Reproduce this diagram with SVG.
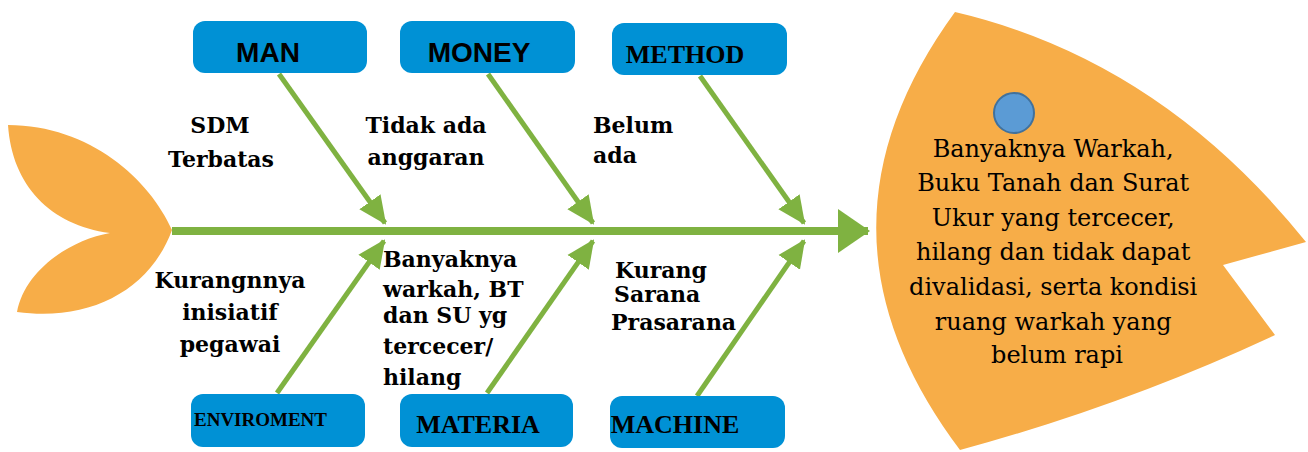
<svg xmlns="http://www.w3.org/2000/svg" width="1308" height="452" viewBox="0 0 1308 452">
<defs>
<style>
.box{fill:#0091d5}
.bone{stroke:#7fb241;stroke-width:5;fill:none}
.spine{stroke:#7fb241;stroke-width:8;fill:none}
.fish{fill:#f7ad48}
.sans{font-family:"Liberation Sans",Arial,sans-serif;font-weight:bold;font-size:28px;fill:#000}
.ser{font-family:"Liberation Serif","Times New Roman",serif;font-weight:bold;font-size:26px;fill:#000}
.lbl{font-family:"DejaVu Serif",Cambria,serif;font-weight:bold;font-size:22px;fill:#000}
.head{font-family:"DejaVu Serif",Cambria,serif;font-size:24px;fill:#000;text-anchor:middle}
</style>
<marker id="ah" markerUnits="userSpaceOnUse" markerWidth="28" markerHeight="28" viewBox="0 0 28 28" refX="26" refY="14" orient="auto">
<path d="M0,1 L28,14 L0,27 Z" fill="#7fb241"/>
</marker>
<marker id="big" markerUnits="userSpaceOnUse" markerWidth="32" markerHeight="44" viewBox="0 0 32 44" refX="30" refY="22" orient="auto">
<path d="M0,0 L32,22 L0,44 Z" fill="#7fb241"/>
</marker>
</defs>
<rect width="1308" height="452" fill="#fff"/>

<g id="tail">
<path class="fish" d="M8,125 C90,125 150,180 172,230 C150,290 90,322 17,312 C25,270 70,240 110,233 C50,225 12,185 8,125 Z"/>
</g>

<g id="head">
<path class="fish" d="M955,12 Q795,231 960,450 Q1125,405 1275,335 L1223,265 L1306,242 Q1160,60 955,12 Z"/>
<circle cx="1014" cy="113" r="20" fill="#5b9bd5" stroke="#41719c" stroke-width="2"/>
<text class="head">
<tspan x="1057" y="157">Banyaknya Warkah,</tspan>
<tspan x="1057" y="191">Buku Tanah dan Surat</tspan>
<tspan x="1057" y="226">Ukur yang tercecer,</tspan>
<tspan x="1057" y="260">hilang dan tidak dapat</tspan>
<tspan x="1057" y="295">divalidasi, serta kondisi</tspan>
<tspan x="1057" y="330">ruang warkah yang</tspan>
<tspan x="1057" y="363">belum rapi</tspan>
</text>
</g>

<g id="connectors">
<line class="spine" x1="172" y1="231" x2="868" y2="231" marker-end="url(#big)"/>
<line class="bone" x1="279" y1="74" x2="385" y2="223" marker-end="url(#ah)"/>
<line class="bone" x1="488" y1="74" x2="593" y2="223" marker-end="url(#ah)"/>
<line class="bone" x1="700" y1="76" x2="804" y2="223" marker-end="url(#ah)"/>
<line class="bone" x1="277" y1="393" x2="384" y2="241" marker-end="url(#ah)"/>
<line class="bone" x1="487" y1="393" x2="593" y2="241" marker-end="url(#ah)"/>
<line class="bone" x1="697" y1="396" x2="804" y2="241" marker-end="url(#ah)"/>
</g>

<g id="man">
<rect class="box" x="193" y="21" width="174" height="52" rx="12"/>
<text class="sans" x="268" y="62" text-anchor="middle">MAN</text>
</g>
<g id="money">
<rect class="box" x="400" y="21" width="175" height="52" rx="12"/>
<text class="sans" x="479" y="62" text-anchor="middle">MONEY</text>
</g>
<g id="method">
<rect class="box" x="612" y="23" width="175" height="52" rx="12"/>
<text class="ser" x="685" y="63" text-anchor="middle">METHOD</text>
</g>
<g id="enviroment">
<rect class="box" x="191" y="394" width="174" height="53" rx="12"/>
<text class="ser" x="194" y="426" style="font-size:19px">ENVIROMENT</text>
</g>
<g id="materia">
<rect class="box" x="400" y="394" width="173" height="53" rx="12"/>
<text class="ser" x="478" y="433" text-anchor="middle">MATERIA</text>
</g>
<g id="machine">
<rect class="box" x="610" y="396" width="175" height="52" rx="12"/>
<text class="ser" x="675" y="433" text-anchor="middle">MACHINE</text>
</g>

<g id="labels">
<text class="lbl" text-anchor="middle"><tspan x="220" y="133">SDM</tspan><tspan x="221" y="167">Terbatas</tspan></text>
<text class="lbl" text-anchor="middle"><tspan x="426" y="133">Tidak ada</tspan><tspan x="426" y="165">anggaran</tspan></text>
<text class="lbl"><tspan x="593" y="133">Belum</tspan><tspan x="593" y="163">ada</tspan></text>
<text class="lbl" text-anchor="middle"><tspan x="230" y="288">Kurangnnya</tspan><tspan x="230" y="320">inisiatif</tspan><tspan x="230" y="352">pegawai</tspan></text>
<text class="lbl"><tspan x="383" y="267">Banyaknya</tspan><tspan x="383" y="297">warkah, BT</tspan><tspan x="383" y="323">dan SU yg</tspan><tspan x="383" y="354">tercecer/</tspan><tspan x="383" y="385">hilang</tspan></text>
<text class="lbl"><tspan x="615" y="278">Kurang</tspan><tspan x="614" y="302">Sarana</tspan><tspan x="611" y="330">Prasarana</tspan></text>
</g>
</svg>
